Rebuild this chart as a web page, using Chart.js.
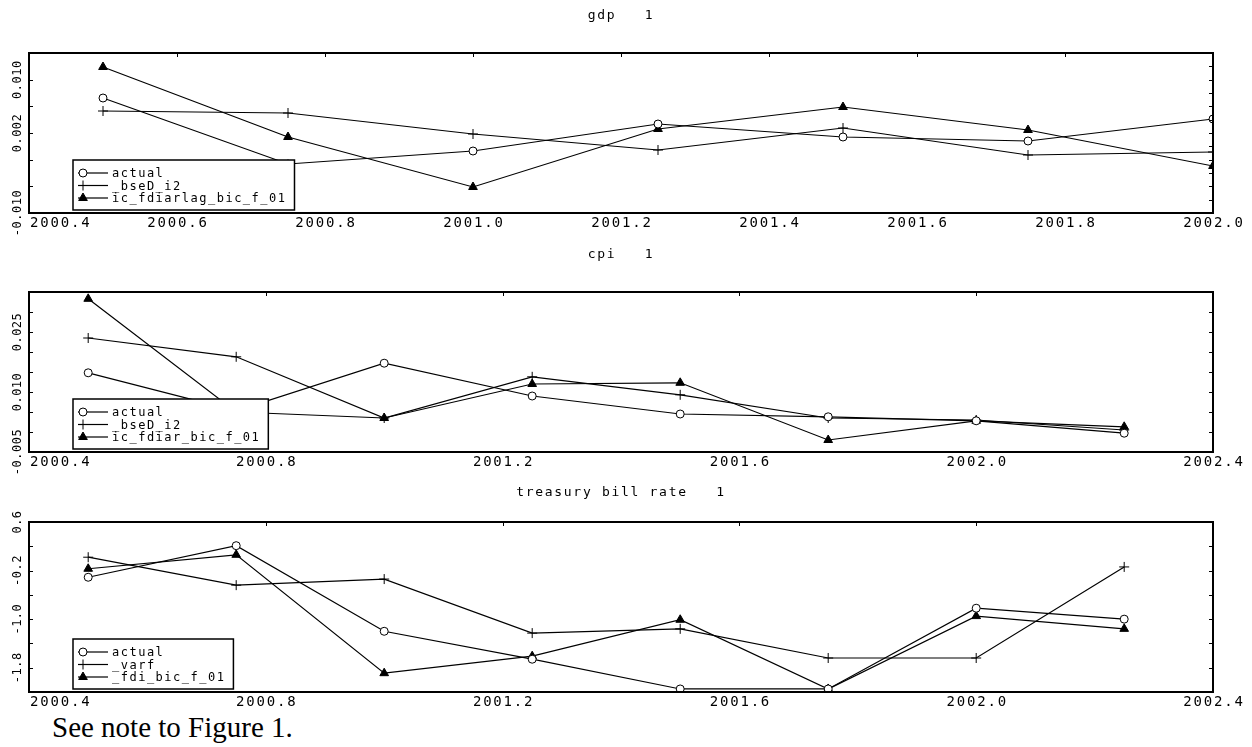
<!DOCTYPE html>
<html><head><meta charset="utf-8">
<script src="https://cdn.jsdelivr.net/npm/chart.js@4.4.1/dist/chart.umd.min.js"></script>
<style>
html,body{margin:0;padding:0;background:#fff;width:1252px;height:747px;overflow:hidden;}
.panel{position:absolute;left:0;width:1252px;}
#note{position:absolute;left:52px;top:713px;font-family:"Liberation Serif","Times New Roman",serif;font-size:29px;line-height:29px;color:#000;white-space:nowrap;}
</style></head><body>
<div class="panel" style="top:0;height:240px"><canvas id="c1"></canvas></div>
<div class="panel" style="top:240px;height:240px"><canvas id="c2"></canvas></div>
<div class="panel" style="top:480px;height:230px"><canvas id="c3"></canvas></div>
<div id="note">See note to Figure 1.</div>
<script>
// ---------- data ----------
const gdpQuarters = [2000.5, 2000.75, 2001.0, 2001.25, 2001.5, 2001.75, 2002.0];
const gdpNames = ['actual', '_bseD_i2', 'ic_fdiarlag_bic_f_01'];
const gdpActual = [0.00725, -0.00265, -0.0007, 0.00335, 0.0014, 0.0008, 0.0041];
const gdpBse = [0.0053, 0.0050, 0.00185, -0.00055, 0.00275, -0.0013, -0.00085];
const gdpFdi = [0.0119, 0.0014, -0.0061, 0.0026, 0.0059, 0.00245, -0.00295];
const gdpXTicks = ['2000.4', '2000.6', '2000.8', '2001.0', '2001.2', '2001.4', '2001.6', '2001.8', '2002.0'];
const gdpYTicks = ['0.010', '0.002', '-0.010'];

const cpiQuarters = [2000.5, 2000.75, 2001.0, 2001.25, 2001.5, 2001.75, 2002.0, 2002.25];
const cpiNames = ['actual', '_bseD_i2', 'ic_fdiar_bic_f_01'];
const cpiActual = [0.0148, 0.0053, 0.0172, 0.0090, 0.0045, 0.0038, 0.0028, -0.0003];
const cpiBse = [0.0235, 0.0188, 0.0035, 0.0138, 0.0093, 0.0035, 0.0030, 0.0005];
const cpiFdi = [0.0333, 0.0050, 0.0035, 0.0120, 0.0123, -0.0020, 0.0028, 0.0013];
const cpiXTicks = ['2000.4', '2000.8', '2001.2', '2001.6', '2002.0', '2002.4'];
const cpiYTicks = ['0.025', '0.010', '-0.005'];

const tbQuarters = [2000.5, 2000.75, 2001.0, 2001.25, 2001.5, 2001.75, 2002.0, 2002.25];
const tbNames = ['actual', '_varf', '_fdi_bic_f_01'];
const tbActual = [-0.31, 0.21, -1.20, -1.66, -2.15, -2.15, -0.82, -1.00];
const tbVarf = [0.02, -0.44, -0.34, -1.23, -1.16, -1.64, -1.64, -0.14];
const tbFdi = [-0.17, 0.06, -1.89, -1.61, -1.01, -2.15, -0.95, -1.16];
const tbXTicks = ['2000.4', '2000.8', '2001.2', '2001.6', '2002.0', '2002.4'];
const tbYTicks = ['0.6', '-0.2', '-1.0', '-1.8'];

// ---------- rendering ----------
const MONO = '"DejaVu Sans Mono", "Liberation Mono", monospace';

const gaussPlugin = {
  id: 'gauss',
  afterDraw(chart, args, o) {
    const ctx = chart.ctx, a = chart.chartArea, xs = chart.scales.x, ys = chart.scales.y;
    ctx.save();
    ctx.fillStyle = '#000'; ctx.strokeStyle = '#000';

    // legend box
    ctx.font = '12px ' + MONO;
    try { ctx.letterSpacing = '1.5px'; } catch (e) {}
    const names = chart.data.datasets.map(d => d.label);
    const tw = Math.max(...names.map(n => ctx.measureText(n).width));
    const bh = 50, bx = a.left + 44, by = a.bottom - 3 - bh, bw = 39 + tw + 8;
    ctx.fillStyle = '#fff'; ctx.fillRect(bx, by, bw, bh);
    ctx.lineWidth = 1.5; ctx.strokeStyle = '#000'; ctx.strokeRect(bx, by, bw, bh);
    chart.data.datasets.forEach((d, i) => {
      const ry = by + 13 + i * 12.5;
      ctx.lineWidth = 1.2; ctx.strokeStyle = '#000';
      ctx.beginPath(); ctx.moveTo(bx + 5, ry); ctx.lineTo(bx + 35, ry); ctx.stroke();
      ctx.fillStyle = d.pointBackgroundColor; ctx.strokeStyle = '#000'; ctx.lineWidth = 1;
      Chart.helpers.drawPoint(ctx, {pointStyle: d.pointStyle, radius: d.pointRadius, borderWidth: 1, rotation: 0}, bx + 10, ry);
      ctx.fillStyle = '#000'; ctx.textAlign = 'left'; ctx.textBaseline = 'middle';
      ctx.fillText(d.label, bx + 39, ry + 1);
    });

    // frame
    ctx.lineWidth = 2; ctx.strokeStyle = '#000';
    ctx.strokeRect(a.left, a.top, a.right - a.left, a.bottom - a.top);

    // tick marks
    ctx.lineWidth = 1;
    o.xLabels.forEach(l => {
      const px = Math.round(xs.getPixelForValue(parseFloat(l))) + 0.5;
      ctx.beginPath(); ctx.moveTo(px, a.top); ctx.lineTo(px, a.top + 4); ctx.stroke();
    });
    const nL = Math.round((ys.max - ys.min) / o.yStep);
    for (let k = 1; k < nL; k++) {
      const py = Math.round(ys.getPixelForValue(ys.min + k * o.yStep)) + 0.5;
      ctx.beginPath(); ctx.moveTo(a.left, py); ctx.lineTo(a.left + 4, py); ctx.stroke();
    }
    const nR = Math.round((ys.max - ys.min) / o.rStep);
    for (let k = 1; k < nR; k++) {
      const py = Math.round(ys.getPixelForValue(ys.min + k * o.rStep)) + 0.5;
      ctx.beginPath(); ctx.moveTo(a.right, py); ctx.lineTo(a.right - 4, py); ctx.stroke();
    }

    // x labels
    ctx.fillStyle = '#000';
    ctx.font = '14px ' + MONO;
    try { ctx.letterSpacing = '1.8px'; } catch (e) {}
    ctx.textBaseline = 'middle';
    o.xLabels.forEach((l, i) => {
      const px = xs.getPixelForValue(parseFloat(l));
      if (i === 0) { ctx.textAlign = 'left'; ctx.fillText(l, px + 1, a.bottom + 10); }
      else { ctx.textAlign = 'center'; ctx.fillText(l, px + 1, a.bottom + 10); }
    });

    // y labels (rotated)
    ctx.font = '12px ' + MONO;
    try { ctx.letterSpacing = '0.5px'; } catch (e) {}
    o.yLabels.forEach(l => {
      const py = ys.getPixelForValue(parseFloat(l));
      ctx.save(); ctx.translate(a.left - 11, py); ctx.rotate(-Math.PI / 2);
      ctx.textAlign = 'center'; ctx.textBaseline = 'middle';
      ctx.fillText(l, 0, 0); ctx.restore();
    });

    // title
    ctx.font = '13px ' + MONO;
    try { ctx.letterSpacing = '1.7px'; } catch (e) {}
    ctx.textAlign = 'center'; ctx.textBaseline = 'middle';
    ctx.fillText(o.title, (a.left + a.right) / 2, o.titleY);
    ctx.restore();
  }
};

function mkSets(names, xs, s1, s2, s3) {
  const base = {borderColor: '#000', borderWidth: 1.2, fill: false, tension: 0, pointBorderColor: '#000', pointBorderWidth: 1};
  return [
    Object.assign({}, base, {label: names[0], data: xs.map((x, i) => ({x, y: s1[i]})), pointStyle: 'circle', pointRadius: 4, pointBackgroundColor: '#fff'}),
    Object.assign({}, base, {label: names[1], data: xs.map((x, i) => ({x, y: s2[i]})), pointStyle: 'cross', pointRadius: 5, pointBackgroundColor: '#000'}),
    Object.assign({}, base, {label: names[2], data: xs.map((x, i) => ({x, y: s3[i]})), pointStyle: 'triangle', pointRadius: 5, pointBackgroundColor: '#000'})
  ];
}

function mkChart(id, sets, xr, yr, pad, g) {
  return new Chart(document.getElementById(id), {
    type: 'line',
    data: {datasets: sets},
    options: {
      responsive: true, maintainAspectRatio: false, animation: false, devicePixelRatio: 1,
      layout: {padding: pad},
      scales: {
        x: {type: 'linear', min: xr[0], max: xr[1], display: false},
        y: {type: 'linear', min: yr[0], max: yr[1], display: false}
      },
      plugins: {legend: {display: false}, tooltip: {enabled: false}, title: {display: false}, gauss: g}
    },
    plugins: [gaussPlugin]
  });
}

mkChart('c1', mkSets(gdpNames, gdpQuarters, gdpActual, gdpBse, gdpFdi), [2000.4, 2002.0], [-0.010, 0.014],
  {left: 29, right: 39, top: 53, bottom: 27},
  {title: 'gdp   1', titleY: 16, xLabels: gdpXTicks, yLabels: gdpYTicks, yStep: 0.004, rStep: 0.002});
mkChart('c2', mkSets(cpiNames, cpiQuarters, cpiActual, cpiBse, cpiFdi), [2000.4, 2002.4], [-0.005, 0.035],
  {left: 29, right: 39, top: 52, bottom: 28},
  {title: 'cpi   1', titleY: 15, xLabels: cpiXTicks, yLabels: cpiYTicks, yStep: 0.005, rStep: 0.005});
mkChart('c3', mkSets(tbNames, tbQuarters, tbActual, tbVarf, tbFdi), [2000.4, 2002.4], [-2.2, 0.6],
  {left: 29, right: 39, top: 42, bottom: 18},
  {title: 'treasury bill rate   1', titleY: 13, xLabels: tbXTicks, yLabels: tbYTicks, yStep: 0.4, rStep: 0.4});
</script>
</body></html>
